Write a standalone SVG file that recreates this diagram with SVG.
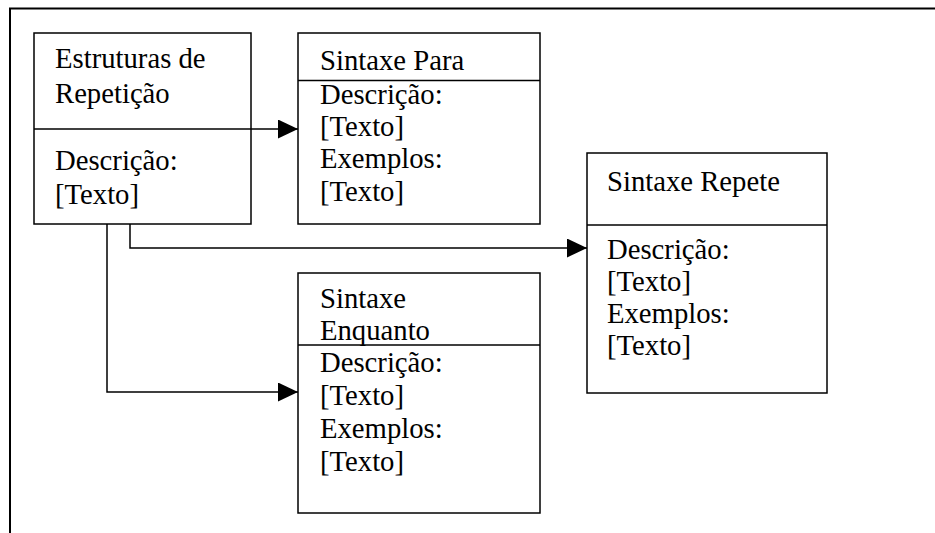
<svg xmlns="http://www.w3.org/2000/svg" width="935" height="533" viewBox="0 0 935 533">
<defs>
<style>
.box{fill:#fff;stroke:#000;stroke-width:1.5}
.div{stroke:#000;stroke-width:1.5;fill:none}
.t{font-family:"Liberation Serif","Times New Roman",serif;font-size:28.7px;fill:#000}
.c{stroke:#000;stroke-width:1.5;fill:none}
</style>
<marker id="ah" markerUnits="userSpaceOnUse" markerWidth="20" markerHeight="19" refX="20" refY="9.5" orient="auto">
<path d="M0,0 L20,9.5 L0,19 z" fill="#000"/>
</marker>
</defs>
<rect x="0" y="0" width="935" height="533" fill="#fff"/>
<rect x="10" y="8.5" width="940" height="540" fill="none" stroke="#000" stroke-width="2"/>
<g id="n1">
<rect class="box" x="34" y="33" width="217" height="191"/>
<line class="div" x1="34" y1="129" x2="251" y2="129"/>
<text class="t" x="55" y="68">Estruturas de</text>
<text class="t" x="55" y="103">Repetição</text>
<text class="t" x="55" y="170">Descrição:</text>
<text class="t" x="55" y="204">[Texto]</text>
</g>
<g id="n2">
<rect class="box" x="298" y="33" width="242" height="191"/>
<line class="div" x1="298" y1="80.5" x2="540" y2="80.5"/>
<text class="t" x="320" y="70">Sintaxe Para</text>
<text class="t" x="320" y="104">Descrição:</text>
<text class="t" x="320" y="136">[Texto]</text>
<text class="t" x="320" y="168">Exemplos:</text>
<text class="t" x="320" y="201">[Texto]</text>
</g>
<g id="n3">
<rect class="box" x="587" y="153" width="240" height="240"/>
<line class="div" x1="587" y1="225" x2="827" y2="225"/>
<text class="t" x="607" y="191">Sintaxe Repete</text>
<text class="t" x="607" y="259">Descrição:</text>
<text class="t" x="607" y="291">[Texto]</text>
<text class="t" x="607" y="323">Exemplos:</text>
<text class="t" x="607" y="355">[Texto]</text>
</g>
<g id="n4">
<rect class="box" x="298" y="273" width="242" height="240"/>
<line class="div" x1="298" y1="345" x2="540" y2="345"/>
<text class="t" x="320" y="308">Sintaxe</text>
<text class="t" x="320" y="340">Enquanto</text>
<text class="t" x="320" y="372">Descrição:</text>
<text class="t" x="320" y="405">[Texto]</text>
<text class="t" x="320" y="438">Exemplos:</text>
<text class="t" x="320" y="471">[Texto]</text>
</g>
<g id="connectors">
<line class="c" x1="251" y1="129" x2="298" y2="129" marker-end="url(#ah)"/>
<polyline class="c" points="130,224 130,248 587,248" marker-end="url(#ah)"/>
<polyline class="c" points="107,224 107,392 298,392" marker-end="url(#ah)"/>
</g>
</svg>
